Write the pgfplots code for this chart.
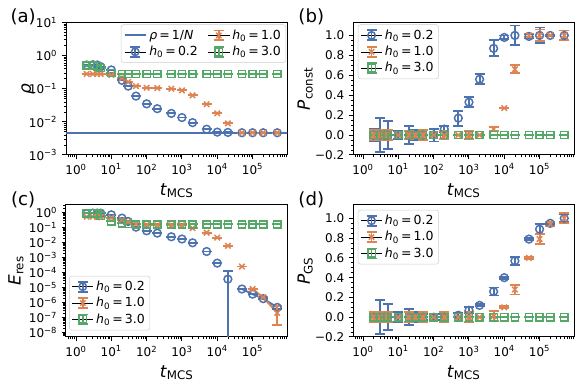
\documentclass[border=0pt]{standalone}
\usepackage{fontspec}
\setmainfont{DejaVu Sans}
\usepackage{pgfplots}
\pgfplotsset{compat=1.18}

\definecolor{cb}{RGB}{76,114,176}
\definecolor{co}{RGB}{221,132,82}
\definecolor{cg}{RGB}{85,168,104}

\newcommand{\hz}[1]{\textit{h}\textsubscript{0}\,=\,#1}
\newcommand{\tp}[1]{10\textsuperscript{#1}}

\pgfplotsset{
  every axis/.append style={width=177pt, height=106pt, scale only axis, anchor=south west,
    xmode=log, xmin=0.52, xmax=9.6e5,
    xtick={1,10,100,1000,10000,100000},
    xticklabels={\tp{0},\tp{1},\tp{2},\tp{3},\tp{4},\tp{5}},
    minor xtick={0.6,0.7,0.8,0.9,2,3,4,5,6,7,8,9,20,30,40,50,60,70,80,90,
      200,300,400,500,600,700,800,900,2000,3000,4000,5000,6000,7000,8000,9000,
      2e4,3e4,4e4,5e4,6e4,7e4,8e4,9e4,2e5,3e5,4e5,5e5,6e5,7e5,8e5,9e5},
    tick align=outside, xtick pos=left, ytick pos=left,
    major tick length=3.5pt, minor tick length=2pt,
    every tick/.append style={black, line width=0.8pt},
    every minor tick/.append style={black, line width=0.6pt},
    axis line style={line width=0.8pt},
    tick label style={font=\fontsize{9.6}{11}\selectfont},
    every axis label/.append style={font=\fontsize{13.5}{16}\selectfont},
    xlabel={\textit{t}\textsubscript{MCS}},
    legend style={font=\fontsize{10}{12}\selectfont, draw=black!20, rounded corners=2pt,
      fill=white, fill opacity=0.8, text opacity=1, inner sep=2pt, row sep=0pt},
    legend cell align=left,
  },
  ylab/.style={every axis y label/.style={at={(rel axis cs:#1,0.5)}, rotate=90, anchor=center,
    font=\fontsize{13.5}{16}\selectfont}},
  myeb/.style={only marks, #1, mark options={line width=1.2pt},
    error bars/y dir=both, error bars/y explicit,
    error bars/error bar style={line width=1.5pt, #1},
    error bars/error mark options={#1, rotate=90, mark size=4pt, line width=1.5pt}},
  mysb/.style={myeb=cb, mark=o, mark size=3.1pt},
  myso/.style={myeb=co, mark=x, mark size=3.1pt},
  mysg/.style={myeb=cg, mark=square, mark size=2.9pt},
  myleg/.style 2 args={legend image code/.code={
    \path (0cm,0cm) -- (0.6cm,0cm);
    \draw[#1, line width=1.5pt] (0.3cm,-0.14cm) -- (0.3cm,0.14cm)
      (0.16cm,-0.14cm) -- (0.44cm,-0.14cm) (0.16cm,0.14cm) -- (0.44cm,0.14cm);
    \draw[#1, line width=1.2pt] plot[only marks, mark=#2, mark size=3pt] coordinates {(0.3cm,0cm)};
  }},
}

\begin{document}
\begin{tikzpicture}
\useasboundingbox (0,0) rectangle (464.8pt,309.6pt);

% (a)
\begin{axis}[at={(52.8pt,185.6pt)}, ylab=-0.172,
  ymode=log, ymin=1e-3, ymax=10,
  ytick={1e-3,1e-2,1e-1,1,10},
  yticklabels={\tp{−3},\tp{−2},\tp{−1},\tp{0},\tp{1}},
  minor ytick={2e-3,3e-3,4e-3,5e-3,6e-3,7e-3,8e-3,9e-3,2e-2,3e-2,4e-2,5e-2,6e-2,7e-2,8e-2,9e-2,
    0.2,0.3,0.4,0.5,0.6,0.7,0.8,0.9,2,3,4,5,6,7,8,9},
  ylabel={\textit{ρ}},
  legend columns=2,
  legend style={at={(0.995,0.985)}, anchor=north east, /tikz/every even column/.append style={column sep=6pt}}]
\addlegendimage{cb, line width=1.5pt}\addlegendentry{\textit{ρ}\,=\,1/\textit{N}}
\addlegendimage{myleg={co}{x}}\addlegendentry{\hz{1.0}}
\addlegendimage{myleg={cb}{o}}\addlegendentry{\hz{0.2}}
\addlegendimage{myleg={cg}{square}}\addlegendentry{\hz{3.0}}
\addplot[cb, line width=1.5pt, forget plot] coordinates {(0.3,0.0047) (2e6,0.0047)};
\addplot[mysb, forget plot, error bars/y fixed=0] table[x=t,y=v] {
t v
2 0.52
3 0.53
4 0.52
5 0.46
10 0.37
20 0.18
30 0.12
50 0.060
100 0.035
200 0.025
500 0.018
1000 0.0135
2000 0.0095
5000 0.0060
10000 0.0049
20000 0.0048
50000 0.0047
100000 0.0047
200000 0.0047
500000 0.0047
};
\addplot[myso, forget plot, error bars/y fixed=0] table[x=t,y=v] {
t v
2 0.28
3 0.28
4 0.28
5 0.28
10 0.26
20 0.21
30 0.16
50 0.12
100 0.107
200 0.105
500 0.10
1000 0.089
2000 0.063
5000 0.034
10000 0.018
20000 0.009
50000 0.0047
100000 0.0047
200000 0.0047
500000 0.0047
};
\addplot[mysg, forget plot, error bars/y fixed=0] table[x=t,y=v] {
t v
2 0.50
3 0.50
4 0.48
5 0.42
10 0.30
20 0.28
30 0.28
50 0.28
100 0.28
200 0.28
500 0.28
1000 0.28
2000 0.28
5000 0.28
10000 0.28
20000 0.28
50000 0.28
100000 0.28
200000 0.28
500000 0.28
};
\end{axis}

% (b)
\begin{axis}[at={(282.4pt,185.6pt)}, ylab=-0.216,
  ymin=-0.2, ymax=1.13,
  ytick={-0.2,0,0.2,0.4,0.6,0.8,1.0},
  yticklabels={−0.2,0.0,0.2,0.4,0.6,0.8,1.0},
  minor y tick num=3,
  ylabel={\textit{P}\textsubscript{const}},
  legend style={at={(0.022,0.985)}, anchor=north west}]
\addlegendimage{myleg={cb}{o}}\addlegendentry{\hz{0.2}}
\addlegendimage{myleg={co}{x}}\addlegendentry{\hz{1.0}}
\addlegendimage{myleg={cg}{square}}\addlegendentry{\hz{3.0}}
\addplot[mysb, forget plot] table[x=t,y=v,y error=e] {
t v e
2 0 0.06
3 0 0.17
4 0 0.04
5 0 0.14
10 0 0.04
20 0 0.09
30 0 0.05
50 0 0.05
100 0 0.065
200 0.06 0.03
500 0.17 0.075
1000 0.33 0.05
2000 0.56 0.05
5000 0.87 0.08
10000 0.98 0.02
20000 1.0 0.10
50000 0.99 0.02
100000 1.0 0.08
200000 1.0 0.01
500000 1.0 0.05
};
\addplot[myso, forget plot] table[x=t,y=v,y error=e] {
t v e
2 0 0.05
3 0 0.05
4 0 0.05
5 0 0.05
10 0 0
20 0 0.04
30 0 0.03
50 0 0.05
100 0 0
200 0 0.04
500 0 0
1000 0 0.04
2000 0 0
5000 0.06 0.02
10000 0.27 0
20000 0.66 0.04
50000 1.0 0.02
100000 1.0 0.06
200000 1.0 0
500000 1.0 0.05
};
\addplot[mysg, forget plot, error bars/y fixed=0] table[x=t,y=v] {
t v
2 0
3 0
4 0
5 0
10 0
20 0
30 0
50 0
100 0
200 0
500 0
1000 0
2000 0
5000 0
10000 0
20000 0
50000 0
100000 0
200000 0
500000 0
};
\end{axis}

% (c)
\begin{axis}[at={(52.8pt,40pt)}, ylab=-0.226,
  ymode=log, ymin=5e-9, ymax=3.4,
  ytick={1e-8,1e-7,1e-6,1e-5,1e-4,1e-3,1e-2,1e-1,1},
  yticklabels={\tp{−8},\tp{−7},\tp{−6},\tp{−5},\tp{−4},\tp{−3},\tp{−2},\tp{−1},\tp{0}},
  minor ytick={6e-9,7e-9,8e-9,9e-9,2e-8,3e-8,4e-8,5e-8,6e-8,7e-8,8e-8,9e-8,
    2e-7,3e-7,4e-7,5e-7,6e-7,7e-7,8e-7,9e-7,2e-6,3e-6,4e-6,5e-6,6e-6,7e-6,8e-6,9e-6,
    2e-5,3e-5,4e-5,5e-5,6e-5,7e-5,8e-5,9e-5,2e-4,3e-4,4e-4,5e-4,6e-4,7e-4,8e-4,9e-4,
    2e-3,3e-3,4e-3,5e-3,6e-3,7e-3,8e-3,9e-3,2e-2,3e-2,4e-2,5e-2,6e-2,7e-2,8e-2,9e-2,
    0.2,0.3,0.4,0.5,0.6,0.7,0.8,0.9,2,3},
  ylabel={\textit{E}\textsubscript{res}},
  legend style={at={(0.014,0.05)}, anchor=south west}]
\addlegendimage{myleg={cb}{o}}\addlegendentry{\hz{0.2}}
\addlegendimage{myleg={co}{x}}\addlegendentry{\hz{1.0}}
\addlegendimage{myleg={cg}{square}}\addlegendentry{\hz{3.0}}
\addplot[cb, line width=1.5pt, forget plot] coordinates {(5e4,7.9e-6) (1e5,3.6e-6) (2e5,1.8e-6) (5e5,4.7e-7)};
\addplot[co, line width=1.5pt, forget plot] coordinates {(1e5,7.9e-6) (2e5,2.2e-6) (5e5,2e-7)};
\addplot[mysb, forget plot] table[x=t,y=v,y error plus=ep,y error minus=em] {
t v ep em
2 0.85 0 0
3 0.9 0 0
4 0.9 0 0
5 0.9 0 0
10 0.7 0 0
20 0.42 0 0
30 0.25 0 0
50 0.105 0 0
100 0.06 0 0
200 0.042 0 0
500 0.024 0 0
1000 0.017 0 0
2000 0.0095 0 0
5000 0.0025 0 0
10000 0.00042 0 0
20000 3.6e-5 9.4e-5 3.59999e-5
50000 7.9e-6 0 0
100000 3.6e-6 0 0
200000 1.8e-6 0 0
500000 4.7e-7 1e-7 1e-7
};
\addplot[myso, forget plot] table[x=t,y=v,y error plus=ep,y error minus=em] {
t v ep em
2 0.52 0 0
3 0.52 0 0
4 0.5 0 0
5 0.5 0 0
10 0.45 0 0
20 0.32 0 0
30 0.24 0 0
50 0.17 0 0
100 0.15 0 0
200 0.14 0 0
500 0.14 0 0
1000 0.14 0 0
2000 0.09 0 0
5000 0.045 0 0
10000 0.021 0 0
20000 0.006 0 0
50000 2.5e-4 0 0
100000 7.9e-6 0 0
200000 2.2e-6 0 0
500000 2e-7 3.5e-7 1.7e-7
};
\addplot[mysg, forget plot, error bars/y fixed=0] table[x=t,y=v] {
t v
2 0.9
3 0.9
4 0.85
5 0.6
10 0.26
20 0.19
30 0.17
50 0.16
100 0.16
200 0.16
500 0.16
1000 0.16
2000 0.16
5000 0.16
10000 0.16
20000 0.16
50000 0.16
100000 0.16
200000 0.16
500000 0.16
};
\end{axis}

% (d)
\begin{axis}[at={(282.4pt,40pt)}, ylab=-0.216,
  ymin=-0.2, ymax=1.14,
  ytick={-0.2,0,0.2,0.4,0.6,0.8,1.0},
  yticklabels={−0.2,0.0,0.2,0.4,0.6,0.8,1.0},
  minor y tick num=3,
  ylabel={\textit{P}\textsubscript{GS}},
  legend style={at={(0.022,0.96)}, anchor=north west}]
\addlegendimage{myleg={cb}{o}}\addlegendentry{\hz{0.2}}
\addlegendimage{myleg={co}{x}}\addlegendentry{\hz{1.0}}
\addlegendimage{myleg={cg}{square}}\addlegendentry{\hz{3.0}}
\addplot[mysb, forget plot] table[x=t,y=v,y error=e] {
t v e
2 0 0.05
3 0 0.17
4 0 0.03
5 0 0.13
10 0 0.05
20 0 0.08
30 0 0.05
50 0 0.03
100 0 0.03
200 0 0.03
500 0.02 0.02
1000 0.07 0.03
2000 0.12 0.01
5000 0.26 0.04
10000 0.40 0.01
20000 0.57 0.04
50000 0.79 0.01
100000 0.89 0.05
200000 0.95 0.01
500000 1.0 0.04
};
\addplot[myso, forget plot] table[x=t,y=v,y error=e] {
t v e
2 0 0.05
3 0 0.05
4 0 0.05
5 0 0.05
10 0 0
20 0 0.05
30 0 0.02
50 0 0.05
100 0 0
200 0 0.05
500 0 0
1000 0 0.05
2000 0 0
5000 0.01 0.05
10000 0.10 0.01
20000 0.28 0.05
50000 0.60 0.01
100000 0.79 0.05
200000 0.94 0.02
500000 1.0 0.05
};
\addplot[mysg, forget plot, error bars/y fixed=0] table[x=t,y=v] {
t v
2 0
3 0
4 0
5 0
10 0
20 0
30 0
50 0
100 0
200 0
500 0
1000 0
2000 0
5000 0
10000 0
20000 0
50000 0
100000 0
200000 0
500000 0
};
\end{axis}

\node[font=\fontsize{14.5}{18}\selectfont] at (18.5pt,296pt) {(a)};
\node[font=\fontsize{14.5}{18}\selectfont] at (249pt,296pt) {(b)};
\node[font=\fontsize{14.5}{18}\selectfont] at (18.5pt,150pt) {(c)};
\node[font=\fontsize{14.5}{18}\selectfont] at (249pt,150pt) {(d)};
\end{tikzpicture}
\end{document}
